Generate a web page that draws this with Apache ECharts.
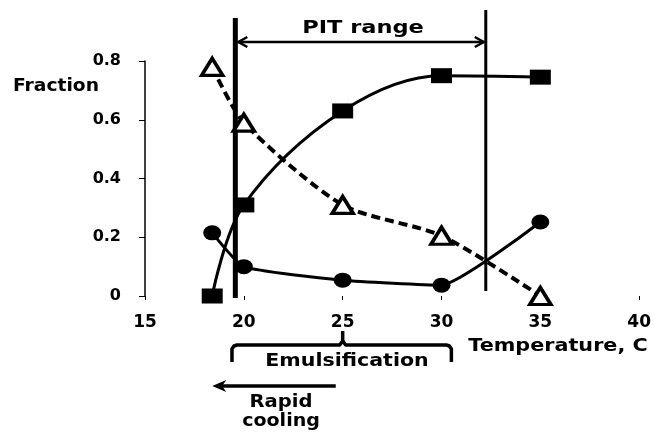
<!DOCTYPE html>
<html><head><meta charset="utf-8">
<script src="https://cdn.jsdelivr.net/npm/echarts@6/dist/echarts.min.js"></script>
<style>html,body{margin:0;padding:0;background:#fff}#c{width:654px;height:433px}</style>
</head><body><div id="c"></div>
<script>
const temps = [18.4, 20, 25, 30, 35];
const squares = [0, 0.31, 0.63, 0.75, 0.745];
const triangles = [0.78, 0.59, 0.31, 0.205, 0];
const circles = [0.215, 0.1, 0.054, 0.037, 0.252];
const xTicks = [15, 20, 25, 30, 35, 40];
const yTicks = [0, 0.2, 0.4, 0.6, 0.8];
const pitRange = [19.57, 32.24];

const FONT = '"DejaVu Sans", Verdana, sans-serif';
const chart = echarts.init(document.getElementById('c'), null, {renderer: 'canvas'});
const pair = a => temps.map((t, i) => [t, a[i]]);
chart.setOption({
  animation: false,
  backgroundColor: '#fff',
  grid: {left: 145, right: 14, top: 61, bottom: 137},
  xAxis: {
    type: 'value', min: xTicks[0], max: xTicks[xTicks.length - 1], interval: 5,
    axisLine: {show: false},
    axisTick: {show: true, length: 4, lineStyle: {color: '#000', width: 1}},
    axisLabel: {color: '#000', fontFamily: FONT, fontWeight: 'bold', fontSize: 17, margin: 18},
    splitLine: {show: false}
  },
  yAxis: {
    type: 'value', min: yTicks[0], max: yTicks[yTicks.length - 1], interval: 0.2,
    axisLine: {show: true, lineStyle: {color: '#000', width: 1.5}},
    axisTick: {show: true, length: 6, lineStyle: {color: '#000'}},
    axisLabel: {color: '#000', fontFamily: FONT, fontWeight: 'bold', fontSize: 16, margin: 24,
      formatter: v => v === 0 ? '0' : v.toFixed(1)},
    splitLine: {show: false}
  },
  series: [
    {type: 'line', data: pair(squares), smooth: 0.35, symbol: 'rect', symbolSize: [21, 15],
      lineStyle: {color: '#000', width: 3}, itemStyle: {color: '#000'}},
    {type: 'line', data: pair(circles), smooth: 0.15, symbol: 'circle', symbolSize: [18, 15],
      lineStyle: {color: '#000', width: 3}, itemStyle: {color: '#000'}},
    {type: 'line', data: pair(triangles), smooth: 0.25, symbol: 'triangle', symbolSize: [21, 17],
      lineStyle: {color: '#000', width: 4, type: [9, 5]},
      itemStyle: {color: '#fff', borderColor: '#000', borderWidth: 3.5}}
  ]
});

function px(x, y) { return chart.convertToPixel({gridIndex: 0}, [x, y]); }
function label(text, x, y, size, sx, align) {
  return {type: 'text', x: x, y: y, scaleX: sx, z: 100,
    style: {text: text, font: 'bold ' + size + 'px ' + FONT, fill: '#000', align: align || 'center', verticalAlign: 'middle'}};
}
const g = [];
const L1 = px(pitRange[0], 0)[0], L2 = px(pitRange[1], 0)[0];
g.push({type: 'line', shape: {x1: L1, y1: 18, x2: L1, y2: 298}, style: {stroke: '#000', lineWidth: 5}});
g.push({type: 'line', shape: {x1: L2, y1: 10, x2: L2, y2: 291}, style: {stroke: '#000', lineWidth: 3}});
// PIT arrow
const ay = 42;
g.push({type: 'line', shape: {x1: L1 + 3, y1: ay, x2: L2 - 2, y2: ay}, style: {stroke: '#000', lineWidth: 2.5}});
g.push({type: 'polyline', shape: {points: [[L1 + 12, ay - 5], [L1 + 3, ay], [L1 + 12, ay + 5]]}, style: {stroke: '#000', lineWidth: 2.5, fill: null}});
g.push({type: 'polyline', shape: {points: [[L2 - 11, ay - 5], [L2 - 2, ay], [L2 - 11, ay + 5]]}, style: {stroke: '#000', lineWidth: 2.5, fill: null}});
g.push(label('PIT range', 363, 28, 18, 1.25));
g.push(label('Fraction', 56, 87, 17, 1.1));
g.push(label('Temperature, C', 558, 347, 17, 1.22));
// Emulsification bracket
const bx1 = px(19.4, 0)[0], bx2 = px(30.5, 0)[0], bc = px(25, 0)[0];
const by = 345;
g.push({type: 'polyline', shape: {points: [
  [bx1, 362], [bx1, by + 4], [bx1 + 2, by + 1], [bx1 + 5, by], [bc - 3, by], [bc, by - 4], [bc + 3, by],
  [bx2 - 5, by], [bx2 - 2, by + 1], [bx2, by + 4], [bx2, 362]]},
  style: {stroke: '#000', lineWidth: 3.5, fill: null, lineJoin: 'round'}});
g.push({type: 'line', shape: {x1: bc, y1: by - 3, x2: bc, y2: 331}, style: {stroke: '#000', lineWidth: 3.5}});
g.push(label('Emulsification', 347, 362, 17, 1.21));
// Rapid cooling arrow
const rx1 = px(24.65, 0)[0], rx2 = px(18.4, 0)[0], ry = 386;
g.push({type: 'line', shape: {x1: rx1, y1: ry, x2: rx2 + 8, y2: ry}, style: {stroke: '#000', lineWidth: 3.5}});
g.push({type: 'polygon', shape: {points: [[rx2, ry], [rx2 + 14, ry - 6], [rx2 + 10, ry], [rx2 + 14, ry + 6]]}, style: {fill: '#000'}});
g.push(label('Rapid', 281, 403, 17, 1.15));
g.push(label('cooling', 281, 422, 17, 1.12));
chart.setOption({graphic: g});
</script></body></html>
